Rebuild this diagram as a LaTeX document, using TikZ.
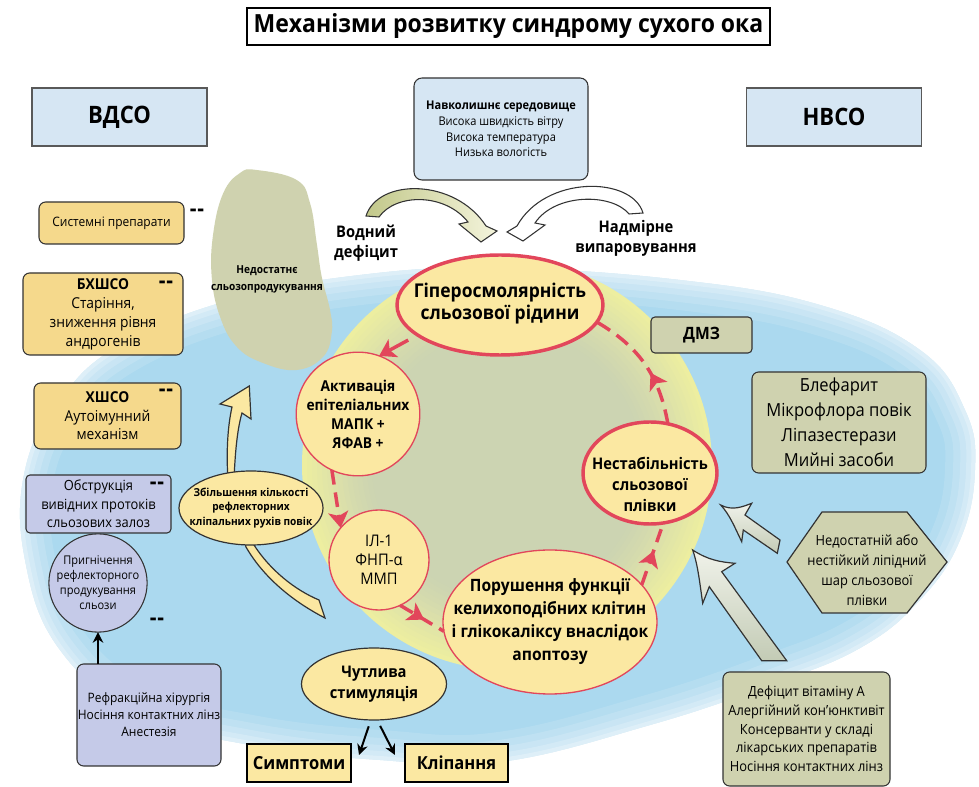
\documentclass[tikz,border=0pt]{standalone}
\usepackage{fontspec}
\setmainfont{Open Sans}[FakeStretch=0.92]
\usetikzlibrary{shapes.geometric,arrows.meta,decorations.markings,calc}
\definecolor{skyb}{HTML}{ABD9EF}
\definecolor{ycen}{HTML}{CCD4B2}
\definecolor{yedge}{HTML}{EDEEA0}
\definecolor{nodey}{HTML}{FBE8A2}
\definecolor{redc}{HTML}{E2465B}
\definecolor{boxy}{HTML}{F5D98C}
\definecolor{lav}{HTML}{C5CAE8}
\definecolor{lblue}{HTML}{D6E6F3}
\definecolor{olive}{HTML}{CFD2AF}
\definecolor{dk}{HTML}{333333}
\definecolor{arrlight}{HTML}{F0F2EA}
\definecolor{arrdark}{HTML}{C3CBB5}
\definecolor{wleft}{HTML}{C2C88A}
\definecolor{wright}{HTML}{F4F4DC}
\newcommand\fsz[2]{\fontsize{#1}{#2}\selectfont}
\begin{document}
\begin{tikzpicture}[x=0.75pt,y=-0.75pt,
  every node/.style={inner sep=0pt,outer sep=0pt,align=center},
  titlebox/.style={draw=black,line width=1.5pt,fill=white,minimum width=392.25pt,minimum height=27.75pt,font=\fsz{18.75pt}{22pt}\bfseries},
  headbox/.style={draw=gray!70!black,line width=0.8pt,fill=lblue,minimum width=131.25pt,minimum height=43.5pt,font=\fsz{18pt}{20pt}\bfseries},
  rbox/.style={draw=dk,line width=0.8pt,rounded corners=5pt},
  yball/.style={fill=nodey,draw=redc,line width=1pt},
  ythick/.style={fill=nodey,draw=redc,line width=2.6pt},
  yell/.style={ellipse,fill=nodey,draw=dk,line width=0.9pt},
  sqbox/.style={draw=black,line width=2.2pt,fill=nodey,minimum height=28.5pt,font=\fsz{13.5pt}{15pt}\bfseries},
  bold/.style={font=\fsz{12pt}{15pt}\bfseries},
  dashmark/.style={font=\fsz{17pt}{17pt}\bfseries},
  reddash/.style={draw=redc,line width=2.6pt,dash pattern=on 11pt off 6pt},
  redtip/.style={-{Stealth[length=12pt,width=15pt,inset=3pt]}},
  midarrow/.style={postaction={decorate,decoration={markings,mark=at position #1 with {\pgfsetdash{}{0pt}\arrow{Stealth[length=12pt,width=15pt,inset=3pt]}}}}},
  blk/.style={draw=black,line width=1.5pt,-{Stealth[length=8pt,width=8pt]}},
  bigarrow/.style={draw=dk,line width=0.9pt,top color=arrlight,bottom color=arrdark}
]
\useasboundingbox (0,0) rectangle (979,787);
\fill[white] (0,0) rectangle (979,787);

% blue background region with soft edge
\def\bluepath{plot[smooth cycle,tension=0.7] coordinates {(500,268) (680,280) (820,305) (920,350) (965,410) (975,470) (960,540) (920,600) (860,648) (770,685) (650,725) (500,762) (380,760) (250,745) (140,715) (60,650) (25,560) (25,470) (60,400) (120,345) (230,300) (360,275)}}
\fill[skyb] \bluepath;
\begin{scope}
\clip \bluepath;
\foreach \w/\o in {60/0.12,44/0.14,30/0.16,18/0.2,8/0.25} {\draw[white,line width=\w*0.75pt,opacity=\o] \bluepath;}
\end{scope}

% yellow circle with radial colour change
\foreach \r/\p in {205/0,200/8,195/16,190/24,185/32,180/40,175/48,170/56,165/64,160/72,155/80,150/86,145/92,140/96,135/100} {\fill[ycen!\p!yedge] (507,465) circle[radius=\r];}

% blob
\fill[olive] plot[smooth cycle,tension=0.7] coordinates {(256.7,170) (296.7,180) (310,203) (316.7,243) (321.7,276.7) (330,310) (331.7,333) (323,357) (296.7,370) (263,363) (236.7,346.7) (220,316.7) (211.7,276.7) (213.3,233) (223.3,193) (240,173)};
\node[font=\fsz{8.25pt}{12.75pt}\bfseries] (blobt) at (267,279) {Недостатнє\\сльозопродукування};

% yellow curved arrow (behind ellipse)
\filldraw[fill=nodey,draw=dk,line width=0.9pt] (325,618) .. controls (290,600) and (262,575) .. (246,547) -- (228,480) .. controls (226,450) and (228,425) .. (232,407) -- (220,404) -- (249.3,386) -- (251,419) -- (242,413) .. controls (237,430) and (235,455) .. (234,480) -- (254,545) .. controls (270,570) and (295,590) .. (319,600) -- cycle;

% top curved arrows
\draw[draw=dk,line width=0.8pt,left color=wleft,right color=wright] (366,216) .. controls (378,178) and (455,178) .. (486,226) -- (497,231) -- (481,242) -- (459,224) -- (468,222) .. controls (445,193) and (396,193) .. (379,217) -- cycle;
\draw[draw=dk,line width=0.8pt,fill=white] (643,213) .. controls (632,176) and (545,175) .. (517,226) -- (507,232) -- (523,241) -- (545,225) -- (535,223) .. controls (555,193) and (612,193) .. (629,214) -- cycle;

% big hollow arrows on the right
\draw[bigarrow] (720.7,505) .. controls (732,511) and (742,507) .. (751.7,503.3) -- (745,515) -- (780,540) -- (777.3,553.3) -- (743.3,530) -- (741.7,541.7) .. controls (735,528) and (730,515) .. (720.7,505) -- cycle;
\draw[bigarrow] (692.7,550) .. controls (708,560) and (720,562) .. (735,563.3) -- (721.7,571.7) -- (786.7,660.7) -- (761.7,660.7) -- (709.3,586.7) -- (702.7,603.3) .. controls (700,585) and (698,565) .. (692.7,550) -- cycle;

% hexagon
\filldraw[fill=olive,draw=dk,line width=0.9pt] (787,562) -- (822,512) -- (907,512) -- (947,562) -- (907,613) -- (822,613) -- cycle;
\node[font=\fsz{10.5pt}{15pt}] (hex) at (867,570) {Недостатній або\\нестійкий ліпідний\\шар сльозової\\плівки};

% title and headers
\node[titlebox] (title) at (508.5,26.5) {Механізми розвитку синдрому сухого ока};
\node[headbox] (vdso) at (119.5,117) {ВДСО};
\node[headbox] (nvso) at (834,117) {НВСО};
\node[rbox,fill=lblue,minimum width=130.5pt,minimum height=76.5pt,rounded corners=6pt,font=\fsz{9pt}{11.8pt}] (env) at (501,129) {\textbf{Навколишнє середовище}\\Висока швидкість вітру\\Висока температура\\Низька вологість};
\node[bold] (vod) at (366,243) {Водний\\дефіцит};
\node[bold] (nadm) at (636,238) {Надмірне\\випаровування};

% central cycle
\node[ellipse,ythick,minimum width=154.5pt,minimum height=75pt] (hyp) at (500,305) {};
\node[font=\fsz{14.25pt}{16.5pt}\bfseries] (hypt) at (500,304) {Гіперосмолярність\\сльозової рідини};
\node[circle,yball,minimum size=87pt,font=\fsz{11.25pt}{14.25pt}\bfseries] (act) at (358,414) {Активація\\епітеліальних\\МАПК +\\ЯФАВ +};
\node[circle,yball,minimum size=75pt,font=\fsz{12pt}{14.25pt}] (il) at (379,560) {ІЛ-1\\ФНП-α\\ММП};
\node[ellipse,yball,minimum width=160.5pt,minimum height=108pt] (por) at (550,622) {};
\node[font=\fsz{12.75pt}{17.25pt}\bfseries] (port) at (550,622) {Порушення функції\\келихоподібних клітин\\і глікокаліксу внаслідок\\апоптозу};
\node[ellipse,ythick,minimum width=100.5pt,minimum height=76.5pt] (nest) at (650,473) {};
\node[font=\fsz{12pt}{15.75pt}\bfseries] (nestt) at (650,484) {Нестабільність\\сльозової\\плівки};

\node[yell,minimum width=108pt,minimum height=55.5pt] (zbil) at (251,508) {};
\node[font=\fsz{8.25pt}{10.9pt}\bfseries] (zbilt) at (251,508) {Збільшення кількості\\рефлекторних\\кліпальних рухів повік};
\node[yell,minimum width=108.75pt,minimum height=54pt,font=\fsz{12pt}{15.75pt}\bfseries] (chut) at (374,684) {Чутлива\\стимуляція};
\node[sqbox,minimum width=78pt] (symp) at (299,763) {Симптоми};
\node[sqbox,minimum width=77.25pt] (klip) at (456.5,763) {Кліпання};

% left column
\node[rbox,fill=boxy,minimum width=108.75pt,minimum height=31.5pt,font=\fsz{9.75pt}{12pt}] (sys) at (111.5,223) {Системні препарати};
\node[rbox,fill=boxy,minimum width=120pt,minimum height=61.5pt,font=\fsz{11.25pt}{14.25pt}] (bhsh) at (103,314) {\textbf{БХШСО}\\Старіння,\\зниження рівня\\андрогенів};
\node[rbox,fill=boxy,minimum width=110.25pt,minimum height=49.5pt,font=\fsz{11.25pt}{13.9pt}] (hsh) at (107.5,416) {\textbf{ХШСО}\\Аутоімунний\\механізм};
\node[rbox,fill=lav,rounded corners=3pt,minimum width=108.75pt,minimum height=43.5pt,font=\fsz{10.5pt}{13.9pt}] (obs) at (98.5,504) {Обструкція\\вивідних протоків\\сльозових залоз};
\node[circle,fill=lav,draw=dk,line width=0.8pt,minimum size=66pt,font=\fsz{9pt}{11.25pt}] (prig) at (98,583) {Пригнічення\\рефлекторного\\продукування\\сльози};
\node[rbox,fill=lav,minimum width=108pt,minimum height=76.5pt,font=\fsz{9.75pt}{12.75pt}] (ref) at (149,715) {Рефракційна хірургія\\Носіння контактних лінз\\Анестезія};
\node[dashmark] (d1) at (197,213) {-\kern0.6pt-};
\node[dashmark] (d2) at (166,285) {-\kern0.6pt-};
\node[dashmark] (d3) at (166,393) {-\kern0.6pt-};
\node[dashmark] (d4) at (157,486) {-\kern0.6pt-};
\node[dashmark] (d5) at (157,622) {-\kern0.6pt-};

% right column
\node[rbox,fill=olive,rounded corners=3pt,minimum width=75.75pt,minimum height=27pt,font=\fsz{12.75pt}{14pt}\bfseries] (dmz) at (701.5,335) {ДМЗ};
\node[rbox,fill=olive,minimum width=130.5pt,minimum height=75.75pt,font=\fsz{13.5pt}{18.75pt}] (blef) at (839,422.5) {Блефарит\\Мікрофлора повік\\Ліпазестерази\\Мийні засоби};
\node[rbox,fill=olive,minimum width=125.25pt,minimum height=85.5pt,font=\fsz{10.5pt}{14pt}] (vit) at (806.5,729) {Дефіцит вітаміну А\\Алергійний кон’юнктивіт\\Консерванти у складі\\лікарських препаратів\\Носіння контактних лінз};

% red cycle connectors
\draw[draw=redc,line width=2.6pt,redtip,shorten <=8pt] (hyp.200) -- (act.70);
\draw[reddash,redtip] (act.245) -- (il.140);
\draw[reddash,midarrow=0.55] (il.-65) -- (por.185);
\draw[reddash,midarrow=0.55,shorten >=5pt] (por.22) -- (nest.-75);
\draw[reddash,midarrow=0.42] (nest.70) to[bend right=25] (hyp.-10);

% black arrows
\coordinate (s1) at (359,755);
\coordinate (s2) at (395,755);
\draw[blk,shorten <=5pt] (chut.265) -- (s1);
\draw[blk,shorten <=5pt] (chut.-85) -- (s2);
\draw[blk] (ref.north -| prig.south) -- (prig.south);
\end{tikzpicture}
\end{document}
